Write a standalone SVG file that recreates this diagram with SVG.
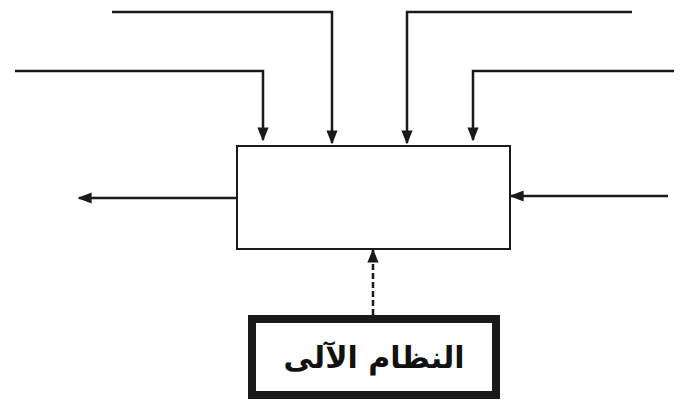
<svg xmlns="http://www.w3.org/2000/svg" width="682" height="403" viewBox="0 0 682 403">
<style>
.ln{fill:none;stroke:#1a1a1a;stroke-width:2.5}
.box{fill:#fff;stroke:#1a1a1a;stroke-width:2}
.thick{fill:#fff;stroke:#1a1a1a;stroke-width:8}
.lbl{font-family:"DejaVu Sans",sans-serif;font-weight:bold;font-size:30px;fill:#111;text-anchor:middle}
</style>
<defs>
<marker id="ah" viewBox="0 0 10 10" refX="9" refY="5" markerWidth="6" markerHeight="6" orient="auto" markerUnits="userSpaceOnUse">
<path d="M0,0 L10,5 L0,10 Z" fill="#1a1a1a"/>
</marker>
<marker id="ah2" viewBox="0 0 10 10" refX="9" refY="5" markerWidth="14" markerHeight="14" orient="auto" markerUnits="userSpaceOnUse">
<path d="M0,1 L10,5 L0,9 Z" fill="#1a1a1a"/>
</marker>
</defs>
<g id="process">
<rect class="box" x="237" y="146" width="273" height="103"/>
</g>
<g id="system">
<rect class="thick" x="252" y="319" width="244" height="76"/>
<text class="lbl" x="374" y="368">النظام الآلى</text>
</g>
<g id="connectors">
<polyline class="ln" points="15,71 263,71 263,140" marker-end="url(#ah2)"/>
<polyline class="ln" points="112,12 332,12 332,143" marker-end="url(#ah2)"/>
<polyline class="ln" points="632,12 407,12 407,143" marker-end="url(#ah2)"/>
<polyline class="ln" points="674,71 473,71 473,140" marker-end="url(#ah2)"/>
<line class="ln" x1="237" y1="198" x2="79" y2="198" marker-end="url(#ah2)"/>
<line class="ln" x1="668" y1="196" x2="511" y2="196" marker-end="url(#ah2)"/>
<line class="ln" x1="373" y1="315" x2="373" y2="250" stroke-dasharray="6,3" marker-end="url(#ah2)"/>
</g>
</svg>
